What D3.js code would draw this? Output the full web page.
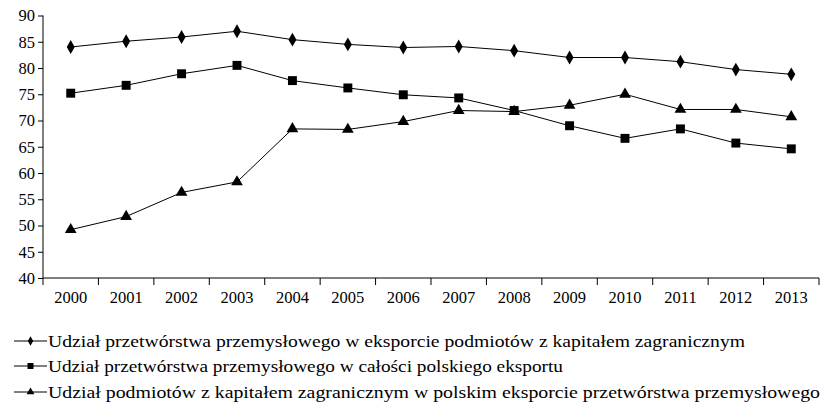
<!DOCTYPE html>
<html>
<head>
<meta charset="utf-8">
<script src="https://cdn.jsdelivr.net/npm/d3@7"></script>
</head>
<body style="margin:0">
<svg id="chart" width="822" height="402"></svg>
<script>
// lata
const years = ["2000", "2001", "2002", "2003", "2004", "2005", "2006", "2007", "2008", "2009", "2010", "2011", "2012", "2013"];

// serie
const diamondValues = [84.0, 85.1, 85.9, 87.0, 85.4, 84.5, 83.9, 84.1, 83.3, 82.0, 82.0, 81.2, 79.7, 78.8];
const squareValues = [75.2, 76.7, 78.9, 80.5, 77.6, 76.2, 74.9, 74.3, 71.9, 69.0, 66.6, 68.4, 65.7, 64.6];
const triangleValues = [49.2, 51.7, 56.3, 58.3, 68.4, 68.3, 69.8, 71.9, 71.7, 72.9, 75.0, 72.1, 72.1, 70.7];

const seriesNames = [
    "Udział przetwórstwa przemysłowego w eksporcie podmiotów z kapitałem zagranicznym",
    "Udział przetwórstwa przemysłowego w całości polskiego eksportu",
    "Udział podmiotów z kapitałem zagranicznym w polskim eksporcie przetwórstwa przemysłowego"
];

const yTicks = [40, 45, 50, 55, 60, 65, 70, 75, 80, 85, 90];

const series = [
    { name: seriesNames[0], values: diamondValues, symbol: d3.symbolDiamond, size: 55 },
    { name: seriesNames[1], values: squareValues, symbol: d3.symbolSquare, size: 80 },
    { name: seriesNames[2], values: triangleValues, symbol: d3.symbolTriangle, size: 60 }
];

const svg = d3.select("#chart");
const serifFont = '"Liberation Serif"';

const plotLeft = 43, plotRight = 819, plotTop = 15.5, plotBottom = 278;

const x = d3.scaleBand().domain(years).range([plotLeft, plotRight]);
const y = d3.scaleLinear().domain([40, 90]).range([plotBottom, plotTop]);

// osie
const xAxis = svg.append("g")
    .attr("transform", `translate(0,${plotBottom})`)
    .call(d3.axisBottom(x).tickSize(0).tickPadding(13))
    .attr("font-family", "Liberation Serif")
    .attr("font-size", 16.5);
xAxis.select(".domain").attr("stroke", "#000").attr("d", `M${plotLeft},0H${plotRight}`);
xAxis.selectAll("text")
    .style("font-family", serifFont)
    .attr("fill", "#000");
// znaczniki między kategoriami
xAxis.selectAll(".sep")
    .data(d3.range(years.length + 1))
    .join("line")
    .attr("class", "sep")
    .attr("x1", i => plotLeft + i * x.step())
    .attr("x2", i => plotLeft + i * x.step())
    .attr("y1", 0).attr("y2", 7)
    .attr("stroke", "#000");

const yAxis = svg.append("g")
    .attr("transform", `translate(${plotLeft},0)`)
    .call(d3.axisLeft(y).tickValues(yTicks).tickSize(5).tickPadding(3))
    .attr("font-family", "Liberation Serif")
    .attr("font-size", 16.5);
yAxis.select(".domain").attr("stroke", "#000").attr("d", `M0,${plotBottom}V${plotTop}`);
yAxis.selectAll("line").attr("stroke", "#000");
yAxis.selectAll("text")
    .style("font-family", serifFont)
    .attr("fill", "#000");

const line = d3.line()
    .x((d, i) => x(years[i]) + x.bandwidth() / 2)
    .y(d => y(d));

series.forEach(s => {
    svg.append("path")
        .datum(s.values)
        .attr("fill", "none")
        .attr("stroke", "#000")
        .attr("stroke-width", 1)
        .attr("d", line);
    svg.append("g")
        .selectAll("path")
        .data(s.values)
        .join("path")
        .attr("transform", (d, i) => `translate(${x(years[i]) + x.bandwidth() / 2},${y(d)})`)
        .attr("d", d3.symbol().type(s.symbol).size(s.size))
        .attr("fill", "#000");
});

// legenda
const legend = svg.append("g");
const legendY = [341, 366, 392];
const legendWidth = [697, 515, 772];
series.forEach((s, i) => {
    const g = legend.append("g").attr("transform", `translate(0,${legendY[i]})`);
    g.append("line").attr("x1", 14).attr("x2", 47).attr("y1", 0).attr("y2", 0)
        .attr("stroke", "#000").attr("stroke-width", 1);
    g.append("path")
        .attr("transform", "translate(30.5,0)")
        .attr("d", d3.symbol().type(s.symbol).size(s.size * 0.45))
        .attr("fill", "#000");
    g.append("text")
        .attr("x", 48).attr("y", 0).attr("dy", "0.35em")
        .style("font-family", serifFont)
        .attr("font-size", 17)
        .attr("textLength", legendWidth[i])
        .attr("lengthAdjust", "spacingAndGlyphs")
        .attr("fill", "#000")
        .text(s.name);
});
</script>
</body>
</html>
